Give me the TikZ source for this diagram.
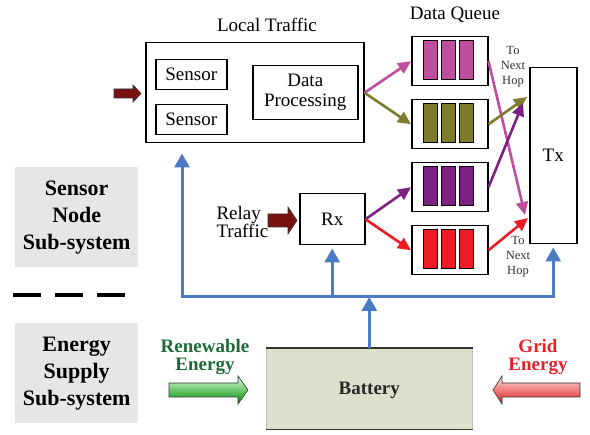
\documentclass[tikz,border=0pt]{standalone}
\usepackage{fontspec}
\setmainfont{Liberation Serif}
\usetikzlibrary{arrows.meta,calc}

\definecolor{qmag}{HTML}{BE4F9F}
\definecolor{qolive}{HTML}{7C7C2C}
\definecolor{qpurple}{HTML}{7B2181}
\definecolor{qred}{HTML}{ED1C24}
\definecolor{pwrblue}{HTML}{4A7BC4}
\definecolor{battfill}{HTML}{DDE1CB}
\definecolor{subgray}{HTML}{E6E6E6}
\definecolor{renewgreen}{HTML}{1E6B3A}
\definecolor{gridred}{HTML}{E8202A}
\definecolor{brownA}{HTML}{7A1212}
\definecolor{brownB}{HTML}{C04848}

\tikzset{
  powertip/.tip={Triangle[length=14pt,width=15pt]},
  flowtip/.tip={Triangle[length=13pt,width=12pt]}
}

\begin{document}
\begin{tikzpicture}[x=1pt, y=-1pt,
  every node/.style={font=\fontsize{19}{20}\selectfont},
  box/.style={draw, line width=1.5pt, inner sep=0pt, anchor=north west, align=center},
  qbox/.style={box, minimum width=76pt, minimum height=49pt},
  flow/.style={line width=2.6pt, -flowtip},
  power/.style={pwrblue, line width=3pt},
  small/.style={font=\fontsize{12.5}{15}\selectfont, align=center, text=black!80},
  subsys/.style={fill=subgray, minimum width=123pt, minimum height=100pt, anchor=north west,
                 align=center, font=\fontsize{22}{27}\selectfont\bfseries},
  blockarrow/.style={draw=black!80, line width=0.6pt}]

\useasboundingbox (0,0) rectangle (590,435);

% ---- sensor node ----
\node[box, minimum width=218pt, minimum height=100pt] (local) at (145,42) {};
\node (localtitle) at (267,25) {Local Traffic};
\node[box, minimum width=71pt, minimum height=30pt] (sens1) at (155,59) {Sensor};
\node[box, minimum width=71pt, minimum height=30pt] (sens2) at (155,104) {Sensor};
\node[box, minimum width=105pt, minimum height=54pt] (dp) at (252,65) {Data\\Processing};

% ---- data queues ----
\node (qtitle) at (455,15) {Data Queue};
\foreach \n/\y/\c in {q1/36/qmag, q2/99/qolive, q3/162/qpurple, q4/225/qred}{
  \node[qbox] (\n) at (411,\y) {};
  \foreach \bx in {423,441,459}
    \filldraw[fill=\c, draw=black, line width=1pt] (\bx,\y+5) rectangle ++(14,39);
}

% ---- transmitter / receiver ----
\node[box, minimum width=47pt, minimum height=176pt] (tx) at (529,67) {Tx};
\node[box, minimum width=65pt, minimum height=51pt] (rx) at (299,193) {Rx};

\node[small] (hopA) at (513,67) {To\\Next\\Hop};
\node[small] (hopB) at (518,257) {To\\Next\\Hop};
\node[align=left, anchor=west, font=\fontsize{19}{17}\selectfont] (relay) at (213,222) {Relay\\Traffic};

% ---- data flow ----
\draw[flow, qmag]   (local.east) -- (q1.west);
\draw[flow, qolive] (local.east) -- (q2.west);
\draw[flow, qpurple] (rx.east) -- (q3.west);
\draw[flow, qred]    (rx.east) -- (q4.west);

\coordinate (txa) at (525,215);
\coordinate (txb) at (527,97);
\coordinate (txc) at (523,103);
\coordinate (txd) at (528,218);
\draw[flow, qmag]    (q1.east) -- (txa);
\draw[flow, qolive]  (q2.east) -- (txb);
\draw[flow, qpurple] (q3.east) -- (txc);
\draw[flow, qred]    (q4.east) -- (txd);

% ---- block arrows for incoming traffic ----
\shadedraw[blockarrow, top color=brownA, middle color=brownB, bottom color=brownA]
  (114,89) -- (133,89) -- (133,85) -- (141,93.5) -- (133,102) -- (133,98) -- (114,98) -- cycle;
\shadedraw[blockarrow, top color=brownA, middle color=brownB, bottom color=brownA]
  (268,214) -- (288,214) -- (288,207) -- (297,220.5) -- (288,234) -- (288,227) -- (268,227) -- cycle;

% ---- subsystem labels ----
\node[subsys] (sns) at (15,167) {Sensor\\Node\\Sub-system};
\node[subsys] (ess) at (15,323) {Energy\\Supply\\Sub-system};
\draw[line width=4pt, dash pattern=on 28pt off 14pt] (13,295) -- (125,295);

% ---- energy supply ----
\node[fill=battfill, draw=black!25, line width=0.6pt, minimum width=206pt, minimum height=81pt,
      anchor=north west] (batt) at (266,348) {};
\node[font=\fontsize{19}{20}\selectfont\bfseries, text=black!85] (battlabel) at ([yshift=-2pt]batt.center) {Battery};
\draw[line width=1.2pt, black!80] (batt.north west) -- (batt.north east);
\draw[line width=1.2pt, black!80] (batt.south west) -- (batt.south east);

\node[align=center, text=renewgreen, font=\fontsize{19}{18}\selectfont\bfseries] (renew) at (205,357) {Renewable\\Energy};
\node[align=center, text=gridred, font=\fontsize{19}{18}\selectfont\bfseries] (grid) at (538,357) {Grid\\Energy};

\shadedraw[blockarrow, top color=green!15, bottom color=green!55!black]
  (169,383) -- (238,383) -- (238,376) -- (248,390) -- (238,404) -- (238,397) -- (169,397) -- cycle;
\shadedraw[blockarrow, top color=red!12, bottom color=red!85!black!90]
  (580,383) -- (502,383) -- (502,376) -- (493,390) -- (502,404) -- (502,397) -- (580,397) -- cycle;

% ---- power distribution ----
\coordinate (busL) at (182,297);
\coordinate (busR) at (tx.south |- busL);
\draw[power, powertip-powertip, shorten <=10pt, shorten >=3pt]
  (busL |- local.south) -- (busL) -- (busR) -- (tx.south);
\draw[power, -powertip, shorten >=3pt] (rx.south |- busL) -- (rx.south);
\draw[power, -powertip] (batt.north) -- (batt.north |- busL);

\end{tikzpicture}
\end{document}
